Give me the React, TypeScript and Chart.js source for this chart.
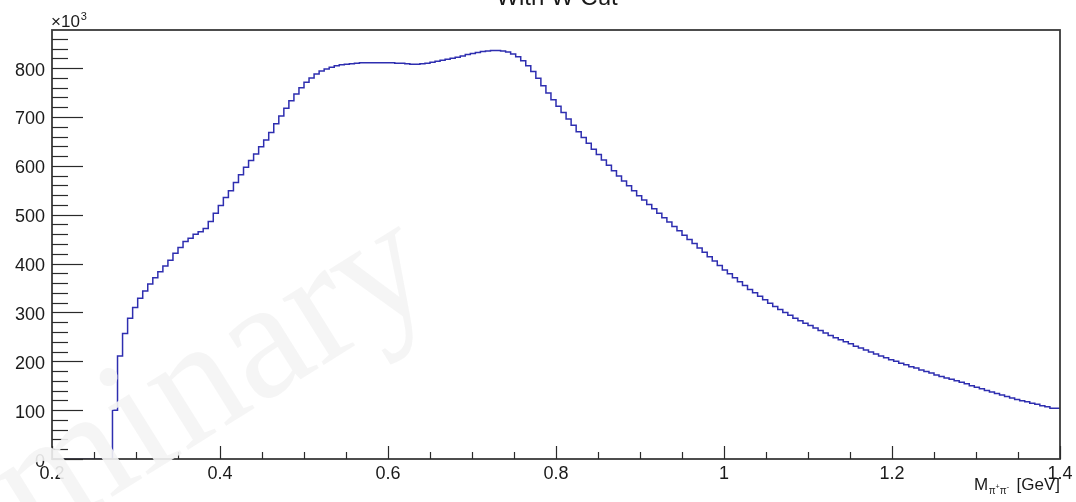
import React, { useEffect, useRef } from 'react';
import { Chart, registerables } from 'chart.js';

Chart.register(...registerables);

// ---- data (counts in units of 10^3 per bin) ----
const X_MIN = 0.2;
const X_MAX = 1.4;
const BIN_WIDTH = 0.006;
const Y_MAX = 878;

const counts: number[] = [
  0, 0, 0, 0, 0, 0, 0, 0, 0, 0,
  0, 0, 0, 100, 211, 257, 288, 310, 329, 344,
  358, 371, 383, 395, 407, 421, 433, 445, 452, 460,
  465, 472, 486, 503, 519, 535, 549, 566, 582, 597,
  611, 624, 639, 653, 668, 686, 702, 718, 733, 747,
  760, 771, 780, 788, 794, 798, 802, 805, 807, 808,
  809, 810, 811, 811, 811, 811, 811, 811, 811, 810,
  810, 809, 808, 808, 809, 810, 812, 814, 816, 818,
  820, 822, 825, 828, 830, 832, 834, 835, 836, 836,
  835, 833, 829, 823, 815, 805, 793, 779, 764, 749,
  735, 722, 709, 696, 683, 670, 658, 646, 634, 623,
  612, 601, 590, 579, 569, 559, 549, 539, 530, 521,
  512, 503, 494, 485, 476, 467, 458, 449, 441, 432,
  423, 414, 405, 396, 387, 379, 371, 363, 355, 347,
  340, 333, 326, 319, 312, 306, 300, 294, 288, 283,
  278, 273, 268, 263, 258, 253, 248, 244, 240, 236,
  231, 227, 223, 219, 215, 211, 207, 203, 200, 196,
  193, 189, 186, 182, 179, 176, 172, 169, 166, 163,
  160, 157, 154, 150, 147, 144, 140, 137, 134, 131,
  128, 125, 122, 119, 117, 114, 112, 109, 107, 104,
];

const xMajorTicks: number[] = [0.2, 0.4, 0.6, 0.8, 1.0, 1.2, 1.4];
const xTickLabels: string[] = ['0.2', '0.4', '0.6', '0.8', '1', '1.2', '1.4'];
const xMinorTicks: number[] = [0.25, 0.3, 0.35, 0.45, 0.5, 0.55, 0.65, 0.7, 0.75, 0.85, 0.9, 0.95, 1.05, 1.1, 1.15, 1.25, 1.3, 1.35];
const yMajorTicks: number[] = [0, 100, 200, 300, 400, 500, 600, 700, 800];
const yTickLabels: string[] = ['0', '100', '200', '300', '400', '500', '600', '700', '800'];
const yMinorTicks: number[] = [
  20, 40, 60, 80, 120, 140, 160, 180, 220, 240, 260, 280, 320, 340, 360, 380,
  420, 440, 460, 480, 520, 540, 560, 580, 620, 640, 660, 680, 720, 740, 760, 780,
  820, 840, 860,
];

const TITLE = 'With W Cut';
const WATERMARK = 'Preliminary';

const SANS = '"Liberation Sans", Arial, Helvetica, sans-serif';

const rootPlugin = {
  id: 'rootStyle',
  afterDraw(chart: any) {
    const { ctx, chartArea: a, scales } = chart;
    const xs = scales.x;
    const ys = scales.y;
    ctx.save();

    // frame
    ctx.strokeStyle = '#3a3a3a';
    ctx.lineWidth = 1.8;
    ctx.strokeRect(a.left, a.top, a.right - a.left, a.bottom - a.top);

    // ticks
    ctx.lineWidth = 1.2;
    ctx.strokeStyle = '#2a2a2a';
    const hline = (x1: number, y: number, x2: number) => {
      ctx.beginPath();
      ctx.moveTo(x1, y);
      ctx.lineTo(x2, y);
      ctx.stroke();
    };
    const vline = (x: number, y1: number, y2: number) => {
      ctx.beginPath();
      ctx.moveTo(x, y1);
      ctx.lineTo(x, y2);
      ctx.stroke();
    };
    yMajorTicks.forEach((v) => {
      const y = Math.round(ys.getPixelForValue(v)) + 0.5;
      hline(a.left, y, a.left + 31);
    });
    yMinorTicks.forEach((v) => {
      const y = Math.round(ys.getPixelForValue(v)) + 0.5;
      hline(a.left, y, a.left + 16);
    });
    xMajorTicks.forEach((v) => {
      const x = Math.round(xs.getPixelForValue(v)) + 0.5;
      vline(x, a.bottom, a.bottom - 13);
    });
    xMinorTicks.forEach((v) => {
      const x = Math.round(xs.getPixelForValue(v)) + 0.5;
      vline(x, a.bottom, a.bottom - 7);
    });

    // tick labels
    ctx.fillStyle = '#1a1a1a';
    ctx.font = `18px ${SANS}`;
    ctx.textBaseline = 'alphabetic';
    ctx.textAlign = 'right';
    yMajorTicks.forEach((v, i) => {
      const y = ys.getPixelForValue(v);
      ctx.fillText(yTickLabels[i], a.left - 7, y + 7.5);
    });
    ctx.textAlign = 'center';
    xMajorTicks.forEach((v, i) => {
      const x = xs.getPixelForValue(v);
      ctx.fillText(xTickLabels[i], x, a.bottom + 20);
    });

    // ×10^3
    ctx.textAlign = 'left';
    ctx.font = `17px ${SANS}`;
    ctx.fillText('\u00d710', a.left - 1, 27);
    const w10 = ctx.measureText('\u00d710').width;
    ctx.font = `11px ${SANS}`;
    ctx.fillText('3', a.left + w10, 20);

    // axis title  M_{π+π-} [GeV]
    ctx.font = `17px ${SANS}`;
    ctx.textAlign = 'right';
    ctx.fillText('[GeV]', a.right, 490);
    ctx.textAlign = 'left';
    let cx = 974;
    ctx.fillText('M', cx, 490);
    cx += ctx.measureText('M').width + 0.5;
    const sub = (t: string, size: number, base: number) => {
      ctx.font = `${size}px ${SANS}`;
      ctx.fillText(t, cx, base);
      cx += ctx.measureText(t).width;
    };
    sub('\u03c0', 10, 494);
    sub('+', 7, 489);
    sub('\u03c0', 10, 494);
    sub('-', 8, 489);

    // title (mostly above the canvas)
    ctx.font = `24px ${SANS}`;
    ctx.textAlign = 'center';
    ctx.fillText(TITLE, 557, 5);

    // watermark
    const fs = 170;
    ctx.font = `${fs}px "Liberation Serif", "Times New Roman", serif`;
    ctx.textAlign = 'left';
    ctx.textBaseline = 'alphabetic';
    const pre = ctx.measureText('Prelimi').width;
    const nW = ctx.measureText('n').width;
    const u = pre + nW / 2;
    const v = -0.23 * fs;
    const th = (-32 * Math.PI) / 180;
    const tx = 200, ty = 396;
    const ox = tx - (u * Math.cos(th) - v * Math.sin(th));
    const oy = ty - (u * Math.sin(th) + v * Math.cos(th));
    ctx.translate(ox, oy);
    ctx.rotate(th);
    ctx.fillStyle = 'rgba(244,244,244,0.9)';
    ctx.fillText(WATERMARK, 0, 0);

    ctx.restore();
  },
};

export default function App() {
  const ref = useRef<HTMLCanvasElement | null>(null);

  useEffect(() => {
    if (!ref.current) return;
    const points = counts.map((c, i) => ({ x: X_MIN + i * BIN_WIDTH, y: c }));
    points.push({ x: X_MAX, y: counts[counts.length - 1] });

    const chart = new Chart(ref.current, {
      type: 'line',
      data: {
        datasets: [
          {
            data: points,
            borderColor: '#2e2eb0',
            borderWidth: 1.5,
            fill: false,
            stepped: 'after',
            pointRadius: 0,
            tension: 0,
          } as any,
        ],
      },
      options: {
        animation: false,
        responsive: false,
        maintainAspectRatio: false,
        parsing: false,
        layout: { padding: { left: 52, right: 16, top: 30, bottom: 43 } },
        scales: {
          x: { type: 'linear', min: X_MIN, max: X_MAX, display: false },
          y: { type: 'linear', min: 0, max: Y_MAX, display: false },
        },
        plugins: {
          legend: { display: false },
          tooltip: { enabled: false },
          title: { display: false },
        },
      } as any,
      plugins: [rootPlugin],
    });
    return () => chart.destroy();
  }, []);

  return (
    <div style={{ position: 'fixed', left: 0, top: 0, width: 1076, height: 502, background: '#fff' }}>
      <canvas ref={ref} width={1076} height={502} style={{ display: 'block' }} />
    </div>
  );
}
